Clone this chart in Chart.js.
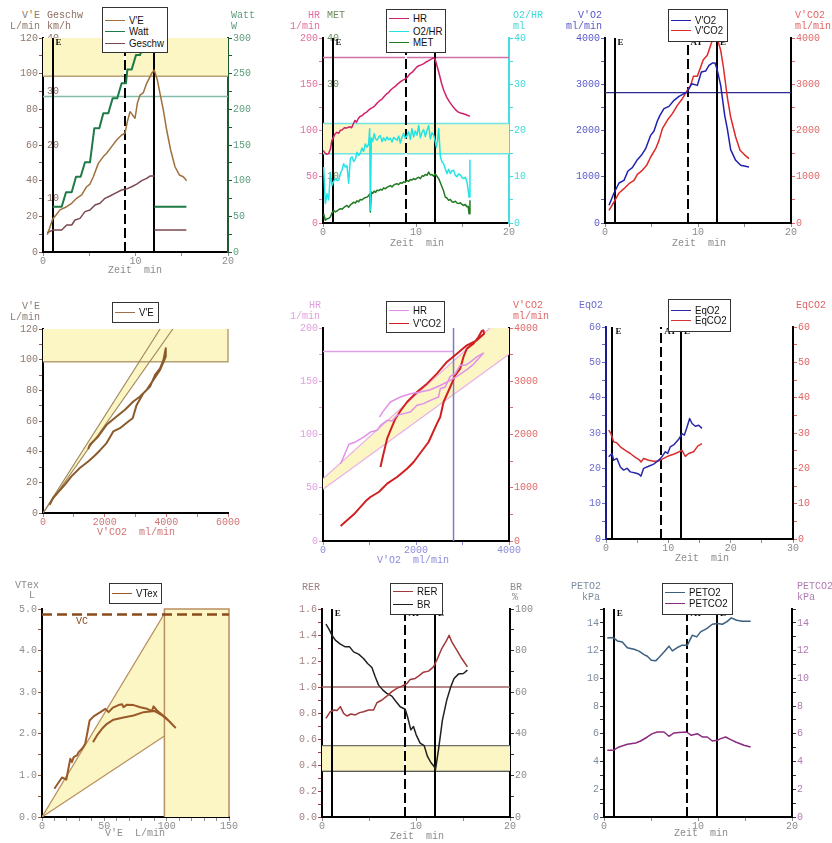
<!DOCTYPE html>
<html>
<head>
<meta charset="utf-8">
<script src="https://cdn.jsdelivr.net/npm/chart.js@4.4.1/dist/chart.umd.min.js"></script>
<style>
  html, body { margin: 0; padding: 0; background: #fff; }
  #page { position: relative; width: 832px; height: 843px; overflow: hidden; }
  .lbl { position: absolute; font: 10px "Liberation Mono", monospace; white-space: pre; line-height: 11px; z-index: 2; }
  .legend { position: absolute; background: #fff; border: 1.5px solid #333; box-sizing: border-box; z-index: 3;
            font: 11px "Liberation Sans", Arial, sans-serif; }
  .legend i { position: absolute; height: 0; border-top: 1.5px solid; }
  .legend span { position: absolute; line-height: 14px; white-space: nowrap; transform: scaleX(0.88); transform-origin: left center; color: #111; }
</style>
</head>
<body>
<div id="page"></div>
<script>
// ---- event markers (min): E = start of load, AT, end of load
const eventT = [1.03, 8.88, 12.03];

// ---- panel 1: V'E, Watt, Geschw over time (null = pen lifted at end of load)
const veT = [0.47,1.05,1.45,1.84,2.56,3.1,3.64,4.18,4.72,5.08,5.44,5.98,6.52,6.88,7.42,7.96,8.5,8.86,9.12,9.41,9.95,10.2,10.49,10.85,11.21,11.75,12.03,12.36,12.65,13.01,13.37,13.8,14.27,14.74,15.17,15.53];
const veV = [9.7,18.5,21.0,23.6,25.4,27.3,30.1,32,36.6,38.1,42.2,49.7,53.5,55.4,59.1,62.8,65.6,66.6,73.1,78.7,75,83.4,88,89.4,94.6,100.2,102,96.5,89,79.6,68.4,57.2,47.8,43.2,42.2,40];
const wattT = [1.05,2.02,2.49,3.10,3.57,4.07,4.54,5.08,5.55,6.09,6.52,7.06,7.53,8.03,8.50,8.97,9.12,9.59,10.05,10.49,10.92,11.4,12.03,12.03,12.03,15.5];
const wattV = [63.5,63.5,83.7,83.7,105.6,105.6,125.8,125.8,173.5,173.5,194.5,194.5,215.6,215.6,236.6,236.6,256,256,276,276,292,297,297,null,63.5,63.5];
const geT = [0.45,1.05,2.02,2.56,3.1,3.46,4.0,4.54,5.08,5.62,6.16,6.7,7.24,7.78,8.5,9.05,9.59,10.13,10.67,11.21,11.57,12.03,12.03,12.03,15.5];
const geV = [3.6,4.1,4.1,5.05,5.05,5.98,6.29,7.54,7.85,8.79,9.1,10.03,10.47,10.97,11.59,11.8,12.2,12.7,13.33,13.77,14.2,14.2,null,4.1,4.1];

// ---- panel 2: HR, O2/HR, MET over time
const hrT = [0.0,0.2,0.4,0.6,0.8,0.95,1.1,1.3,1.5,1.7,1.85,2.1,2.3,2.55,2.8,3.08,3.25,3.44,3.6,3.8,3.98,4.2,4.45,4.7,4.9,5.15,5.41,5.6,5.85,6.13,6.35,6.6,6.85,7.05,7.3,7.56,7.8,8.05,8.28,8.5,8.7,8.89,9.1,9.35,9.6,9.85,10.07,10.3,10.55,10.79,11.0,11.25,11.5,11.7,11.86,12.04,12.2,12.4,12.6,12.76,13.0,13.3,13.6,14.01,14.3,14.55,14.8,15.09,15.4,15.8];
const hrV = [78.5,76,74.2,75,80,89,92,96.5,98,97,100,101,103,102.6,104,103,107,110.9,109,113,115.2,116,118.5,119.9,122,124,125.3,127,130,132.5,134,137,139.7,141,144,146.2,148,150.5,152.3,154,155,155.9,158,161.3,163,166,168.5,170,171,172.1,173.5,175,176.4,177.5,178.6,177.5,172,164.9,157,150.5,143,136.1,131,125.3,122,119.9,119,118.1,117,115.2];
const breathT = [0.07,0.25,0.43,0.61,0.79,0.97,1.15,1.33,1.51,1.69,1.87,2.05,2.22,2.4,2.58,2.76,2.94,3.12,3.3,3.48,3.66,3.84,4.01,4.19,4.37,4.55,4.73,4.9,5.02,5.09,5.2,5.35,5.5,5.65,5.81,6.0,6.17,6.35,6.52,6.7,6.88,7.06,7.24,7.42,7.6,7.78,7.96,8.14,8.31,8.5,8.67,8.85,9.03,9.2,9.39,9.56,9.74,9.92,10.11,10.29,10.47,10.65,10.82,11.0,11.18,11.36,11.54,11.72,11.9,12.05,12.19,12.32,12.44,12.62,12.8,12.97,13.15,13.33,13.51,13.69,13.87,14.05,14.23,14.41,14.59,14.77,14.95,15.12,15.3,15.48,15.62,15.7,15.8];
const o2hrV = [12.1,4.2,6.3,5.0,10.7,8.1,9.0,9.6,9.2,9.3,10.7,11.5,12.8,12.1,12.4,8.6,13.9,14.3,13.3,13.8,15.3,14.6,15.1,16.2,15.5,17.1,16.4,17.0,20.4,2.7,18.4,17.6,19.3,18.2,17.9,18.6,18.9,17.6,18.4,17.8,18.6,18.0,18.3,17.5,18.5,18.2,17.9,18.8,17.3,18.6,19.4,18.3,18.9,19.7,18.1,20.4,18.6,19.9,19.0,21.1,18.4,19.6,20.2,18.7,20.0,21.1,18.2,19.5,19.0,17.8,16.4,18.0,20.4,14.3,13.2,12.8,11.7,10.7,11.6,10.7,11.3,11.4,10.3,10.0,10.6,10.4,9.8,9.6,9.9,8.9,7.0,5.6,13.7];
const metV = [2.0,0.6,0.9,1.0,1.3,2.2,2.7,2.4,2.6,2.9,3.1,3.0,3.3,3.6,3.8,3.4,3.9,4.2,4.5,4.3,4.8,4.6,5.1,5.0,5.3,5.5,5.6,5.9,6.3,2.4,6.7,6.4,6.9,6.6,7.1,7.0,7.3,7.1,7.6,7.4,7.7,7.9,8.1,7.8,8.2,8.4,8.5,8.3,8.7,8.6,8.9,8.8,9.2,9.0,9.4,9.3,9.6,9.4,9.7,9.9,9.6,10.2,10.1,10.5,10.3,11.0,10.4,10.5,10.1,10.6,10.3,9.9,9.6,8.7,7.8,6.9,5.6,5.4,4.9,5.1,4.6,4.5,4.7,4.3,4.2,4.4,4.0,3.8,4.0,3.5,3.6,2.0,4.9];

// ---- panel 3: V'O2, V'CO2 over time
const vo2T = [0.43,0.97,1.51,2.04,2.47,2.94,3.48,3.91,4.37,4.91,5.27,5.63,5.91,6.34,6.88,7.42,7.96,8.49,8.85,9.32,9.93,10.36,10.82,11.18,11.54,11.83,12.08,12.44,12.87,13.15,13.51,14.05,14.59,15.48];
const vo2V = [382,649,865,922,1124,1196,1369,1463,1607,1895,1989,2205,2328,2472,2522,2652,2739,2796,2832,3012,2976,3265,3286,3409,3459,3459,3301,2976,2328,2040,1585,1355,1247,1211];
const vco2T = [0.43,0.97,1.51,2.04,2.58,3.12,3.48,4.01,4.48,4.91,5.45,5.81,6.17,6.7,7.24,7.78,8.32,8.85,9.21,9.5,9.93,10.29,10.57,11.0,11.36,11.61,11.85,12.08,12.44,12.73,13.15,13.51,14.05,14.52,14.95,15.48];
const vco2V = [274,454,649,742,850,922,1052,1139,1247,1427,1607,1787,2040,2220,2364,2544,2688,2868,2976,3171,3171,3373,3531,3625,3841,3990,4080,3990,3733,3373,2724,2292,1859,1571,1485,1391];

// ---- panel 4: V'E against V'CO2 (load, then recovery)
const p4Vco2 = [217,325,705,922,1194,1465,1682,1845,2062,2279,2496,2767,2908,3038,3255,3472,3635,3797,3906,3982,3982,3797,3580,3364,3147,2930,2658,2387,2062,1790,1519,1465];
const p4Ve = [5.4,9.8,18.4,23.9,29.3,33.6,37.5,40.8,45.6,53.2,55.3,59.7,61.8,70.5,78.1,82.5,90.1,94.4,99.8,107.4,102,93.3,86.8,80.3,76,72.7,67.3,62.9,57.5,49.9,44.5,41.7];

// ---- panel 5: HR and V'CO2 against V'O2
const p5HrVo2 = [379,557,700,879,1021,1164,1236,1379,1486,1593,1736,1879,2021,2164,2307,2486,2521,2629,2736,2843,2950,3057,3164,3307,3450,3343,3236,3093,2914,2736,2521,2307,2093,1879,1664,1450,1280,1214];
const p5Hr = [72.6,90.8,93,97.7,102.3,103.9,108.6,113.3,112.7,118,119.6,121.1,127.4,129,132,135.2,143,144.6,154.6,157.1,165,165,168,172.8,176.5,171.2,165.9,160.9,155.6,150.9,146,142,139.9,138.3,135.2,130.5,121,116.4];
const p5Co2Vo2 = [379,664,914,1021,1200,1379,1593,1807,1950,2093,2271,2450,2521,2593,2736,2843,2950,3021,3093,3236,3343,3414,3450,3464,3307,3093,2879,2664,2450,2236,2021,1807,1664,1557,1450,1379,1293,1236];
const p5Co2 = [282,501,745,826,920,1077,1202,1358,1484,1653,1859,2204,2329,2610,2892,3111,3236,3456,3612,3706,3831,3944,3956,3894,3769,3675,3518,3362,3143,2955,2798,2610,2441,2297,2078,1922,1609,1390];

// ---- panel 6: EqO2, EqCO2 over time
const eqo2T = [0.43,0.96,1.23,1.76,2.3,2.83,3.37,3.9,4.71,5.24,5.61,6.04,6.84,7.65,8.45,8.98,9.52,9.89,10.32,10.96,11.66,12.19,12.57,13.0,13.42,13.8,14.33,14.87,15.4];
const eqo2V = [23.3,24.2,22.3,22.8,20.4,19.5,20,19,18.7,18.4,17.8,20,20.6,21.2,22.3,23.3,24.7,24.2,26.1,26.8,28.2,29.8,29.4,31.7,34.1,32.7,31.9,32.2,31.3];
const eqco2T = [0.43,0.8,1.23,1.76,2.3,3.1,3.9,4.71,5.4,5.61,6.04,6.84,7.65,8.45,9.25,9.79,10.32,10.86,11.39,12.19,12.73,13.26,14.06,14.71,15.4];
const eqco2V = [30.8,29.8,27.5,27.2,26.1,25.1,24.2,23.1,22.3,21.8,22.8,22.3,22,22.1,22.8,23.3,23.7,24,24.4,25.1,23.4,24.2,24.7,26.3,27];

// ---- panel 7: VTex against V'E
const vtVe = [9.9,16,19.5,22.7,24,25.4,28,29.4,32.1,34.7,38.2,41.4,46.8,50.8,53.4,56.9,61.4,64.2,65.4,68.2,73.5,78.8,84.2,88.2,89.5,92.2,98.9,102.9,106.9,102,96,90,81.5,73.5,65.4,57.4,52.1,48.1,44.1,40.9];
const vtV = [0.68,0.95,0.9,1.4,1.32,1.44,1.48,1.56,1.64,1.76,2.32,2.42,2.52,2.6,2.52,2.63,2.69,2.71,2.64,2.7,2.69,2.64,2.6,2.55,2.66,2.56,2.4,2.28,2.15,2.3,2.45,2.55,2.52,2.44,2.39,2.34,2.24,2.12,1.96,1.8];

// ---- panel 8: RER, BR over time
const rerT = [0.42,0.88,1.31,1.6,1.95,2.3,2.65,3.08,3.54,4.0,4.42,4.96,5.49,5.84,6.37,6.9,7.43,7.96,8.5,9.03,9.38,9.91,10.27,10.8,11.33,11.86,12.21,12.74,13.27,13.52,13.81,14.34,14.87,15.47];
const rerV = [0.759,0.81,0.823,0.82,0.849,0.797,0.777,0.792,0.785,0.803,0.81,0.823,0.823,0.879,0.9,0.93,0.964,0.989,1.007,1.027,1.058,1.066,1.084,1.114,1.122,1.155,1.206,1.296,1.36,1.398,1.347,1.283,1.219,1.155];
const brT = [0.42,0.71,1.06,1.42,1.95,2.48,2.94,3.36,3.89,4.42,4.85,5.31,5.66,6.02,6.48,6.9,7.43,7.89,8.32,8.85,9.1,9.45,9.73,10.02,10.44,10.87,11.22,11.58,11.93,12.07,12.39,12.81,13.27,13.7,14.05,14.51,15.04,15.47];
const brV = [92.7,90.6,87.4,85,83.1,81.8,81.8,79.4,78.3,76.2,73.8,71.9,67.4,63.4,61,59.4,58.1,55.4,53,51.8,48.2,41.9,43.5,39.5,35.5,34.3,29.1,26.2,24.3,22.7,32.3,46.6,56.2,62.6,66.6,68.7,69,70.6];

// ---- panel 9: PETO2, PETCO2 over time
const peto2T = [0.35,0.99,1.42,1.95,2.48,3.19,3.72,4.26,4.61,5.04,5.5,5.85,6.38,6.91,7.27,7.8,8.33,8.87,9.4,9.86,10.28,10.92,11.52,12.06,12.59,13.05,13.55,14.11,14.72,15.6];
const peto2V = [12.9,12.94,12.7,12.62,12.21,12.1,11.96,11.71,11.59,11.3,11.26,11.5,11.9,12.32,11.98,12.22,12.39,12.39,13.11,12.99,13.35,13.59,13.9,13.95,13.9,14.07,14.36,14.19,14.12,14.12];
const petco2T = [0.35,0.99,1.6,2.48,3.37,3.9,4.61,5.14,5.67,6.38,6.91,7.45,7.98,8.79,9.29,9.93,10.46,10.99,11.52,12.06,12.41,12.94,13.48,14.01,14.89,15.6];
const petco2V = [4.81,4.81,5.05,5.24,5.34,5.48,5.77,6.01,6.13,6.13,5.82,6.06,6.09,6.13,5.89,6.01,5.77,5.77,5.48,5.53,5.65,5.77,5.58,5.41,5.17,5.05];

const MONO = '"Liberation Mono", "DejaVu Sans Mono", monospace';
const YEL = '#fcf6c4';
const GREY = '#8c8c8c';
const page = document.getElementById('page');

const zip = (xs, ys) => xs.map((x, i) => ({ x, y: ys[i] }));

function tickList(min, max, step) {
  const out = [];
  for (let i = 0; min + i * step <= max + 1e-9; i++) out.push({ value: +(min + i * step).toFixed(4) });
  return out;
}

function axis(o) {
  const isX = o.pos === 'bottom';
  const major = v => Math.abs(v / o.major - Math.round(v / o.major)) < 1e-6;
  return {
    type: 'linear', position: o.pos, min: o.min, max: o.max, weight: o.weight || 0, z: 1,
    afterFit: s => { if (isX) s.height = 30; else s.width = o.inner ? 0 : 50; },
    afterBuildTicks: s => { s.ticks = tickList(o.min, o.max, o.minor); },
    border: { display: !o.inner, color: o.line || '#000', width: 2 },
    grid: { display: !o.inner, drawOnChartArea: false, drawTicks: true, tickLength: 4, color: o.mark || o.color, lineWidth: 1 },
    ticks: {
      autoSkip: false, maxRotation: 0, mirror: !!o.inner, padding: o.inner ? 4 : (isX ? -1 : 1),
      color: o.color, font: { family: MONO, size: 10 },
      callback: v => (major(v) && !(o.noZero && v === 0)) ? (o.dec ? v.toFixed(o.dec) : String(Math.round(v))) : ''
    }
  };
}

// yellow areas, reference lines and the E / AT / E markers, drawn from scale values
function refLayer(spec) {
  return {
    id: 'refs',
    beforeDatasetsDraw(chart) {
      const { ctx, chartArea: a, scales } = chart;
      const pt = (id, x, y) => [scales.x.getPixelForValue(x), scales[id].getPixelForValue(y)];
      ctx.save();
      ctx.beginPath();
      ctx.rect(a.left, a.top - 1, a.right - a.left + 1, a.bottom - a.top + 1);
      ctx.clip();
      (spec.polys || []).forEach(p => {
        ctx.beginPath();
        p.pts.forEach(([x, y], i) => { const [X, Y] = pt(p.y || 'y', x, y); i ? ctx.lineTo(X, Y) : ctx.moveTo(X, Y); });
        ctx.closePath();
        ctx.fillStyle = p.fill || YEL;
        ctx.fill();
      });
      (spec.lines || []).forEach(l => {
        ctx.beginPath();
        l.pts.forEach(([x, y], i) => { const [X, Y] = pt(l.y || 'y', x, y); i ? ctx.lineTo(X, Y) : ctx.moveTo(X, Y); });
        ctx.strokeStyle = l.color; ctx.lineWidth = l.w || 1.2; ctx.setLineDash(l.dash || []);
        ctx.stroke();
      });
      ctx.setLineDash([]);
      if (spec.events) {
        eventT.forEach((t, i) => {
          const X = Math.round(scales.x.getPixelForValue(t));
          ctx.lineWidth = 2;
          ctx.beginPath(); ctx.moveTo(X, a.bottom); ctx.lineTo(X, a.top);
          if (i === 1) { ctx.strokeStyle = '#fff'; ctx.stroke(); ctx.setLineDash([10, 4]); }
          ctx.strokeStyle = '#000'; ctx.stroke(); ctx.setLineDash([]);
        });
        ctx.fillStyle = '#111';
        ctx.font = 'bold 9px "Liberation Serif", serif';
        ctx.textBaseline = 'middle';
        ['E', 'AT', 'E'].forEach((s, i) => ctx.fillText(s, scales.x.getPixelForValue(eventT[i]) + 3, a.top + 5));
      }
      ctx.restore();
    }
  };
}

function makeChart(p) {
  const W = p.R - p.L + 100, H = p.B - p.T + 40;
  const cv = document.createElement('canvas');
  cv.width = W; cv.height = H;
  cv.style.cssText = `position:absolute;left:${p.L - 50}px;top:${p.T - 10}px;width:${W}px;height:${H}px;z-index:1`;
  page.appendChild(cv);
  const scales = { x: axis({ ...p.x, pos: 'bottom' }), y: axis({ ...p.y, pos: 'left', weight: 1 }) };
  if (p.y2) scales.y2 = axis({ ...p.y2, pos: 'right' });
  if (p.y3) scales.y3 = axis({ ...p.y3, pos: 'left', inner: true, weight: 0 });
  new Chart(cv, {
    type: 'scatter',
    data: {
      datasets: p.sets.map(s => ({
        data: s.data, yAxisID: s.axis || 'y', borderColor: s.color, borderWidth: s.w || 1.5,
        showLine: true, pointRadius: 0, fill: false, tension: 0, borderJoinStyle: 'round', spanGaps: false
      }))
    },
    options: {
      responsive: false, animation: false, events: [],
      layout: { padding: { top: 10, right: p.y2 ? 0 : 50, left: 0, bottom: 0 } },
      plugins: { legend: { display: false }, tooltip: { enabled: false } },
      scales
    },
    plugins: [refLayer(p.refs || {})]
  });
}

const C = {
  ve: '#8c7a6e', geschw: '#8c6e64', watt: '#5c9c7c',
  hr: '#e070a0', met: '#6c8c5c', o2hr: '#40d8d8',
  vo2: '#5a5ac8', vco2: '#e06868', hr5: '#e0a0e0', vo2x: '#8c8cdc',
  eqo2: '#6a6ad0', eqco2: '#e06464', rer: '#a08080', br: GREY,
  peto2: '#7c8ca0', petco2: '#b07cb0', tan: '#b8a074'
};
const timeX = { min: 0, max: 20, minor: 5, major: 10, color: GREY };

makeChart({ L: 43, R: 228, T: 38, B: 252, x: timeX,
  y: { min: 0, max: 120, minor: 10, major: 20, color: C.ve, mark: '#8c5a40' },
  y2: { min: 0, max: 300, minor: 25, major: 50, color: C.watt, line: '#1e5a32', mark: '#1e5a32' },
  y3: { min: 0, max: 40, minor: 10, major: 10, noZero: true, color: C.geschw },
  refs: { events: true,
    polys: [{ pts: [[0, 98.5], [20, 98.5], [20, 120], [0, 120]] }],
    lines: [{ pts: [[0, 98.5], [20, 98.5]], color: C.tan, w: 1.5 }, { y: 'y2', pts: [[0, 218], [20, 218]], color: '#84bcaa', w: 1.5 }] },
  sets: [
    { data: zip(veT, veV), color: '#a0703c' },
    { data: zip(wattT, wattV), axis: 'y2', color: '#1e7a46', w: 2 },
    { data: zip(geT, geV), axis: 'y3', color: '#7a4a50' }
  ] });

makeChart({ L: 323, R: 509, T: 38, B: 223, x: timeX,
  y: { min: 0, max: 200, minor: 25, major: 50, color: C.hr },
  y2: { min: 0, max: 40, minor: 5, major: 10, color: C.o2hr, line: '#40e0e0' },
  y3: { min: 0, max: 40, minor: 10, major: 10, noZero: true, color: C.met },
  refs: { events: true,
    polys: [{ y: 'y2', pts: [[0, 15], [20, 15], [20, 21.5], [0, 21.5]] }],
    lines: [{ y: 'y2', pts: [[0, 15], [20, 15]], color: '#70e4e4', w: 1.5 }, { y: 'y2', pts: [[0, 21.5], [20, 21.5]], color: '#70e4e4', w: 1.5 },
            { pts: [[0, 179], [20, 179]], color: '#d070a8', w: 1.5 }] },
  sets: [
    { data: zip(hrT, hrV), color: '#d0206a' },
    { data: zip(breathT, o2hrV), axis: 'y2', color: '#22e4e4' },
    { data: zip(breathT, metV), axis: 'y3', color: '#207a20' }
  ] });

makeChart({ L: 605, R: 791, T: 38, B: 223, x: timeX,
  y: { min: 0, max: 4000, minor: 500, major: 1000, color: C.vo2 },
  y2: { min: 0, max: 4000, minor: 500, major: 1000, color: C.vco2 },
  refs: { events: true, lines: [{ pts: [[0, 2818], [20, 2818]], color: '#2a2a90', w: 1.2 }] },
  sets: [
    { data: zip(vo2T, vo2V), color: '#2020b0' },
    { data: zip(vco2T, vco2V), axis: 'y2', color: '#e02828' }
  ] });

makeChart({ L: 43, R: 228, T: 329, B: 513,
  x: { min: 0, max: 6000, minor: 1000, major: 2000, color: '#d07474' },
  y: { min: 0, max: 120, minor: 10, major: 20, color: C.ve, mark: '#8c5a40' },
  refs: {
    polys: [{ pts: [[0, 98.7], [6000, 98.7], [6000, 120], [0, 120]] }, { pts: [[0, 0], [3797, 120], [4210, 120]] }],
    lines: [{ pts: [[0, 98.7], [6000, 98.7], [6000, 120]], color: C.tan, w: 1.5 },
            { pts: [[0, 0], [3797, 120]], color: '#a08860' }, { pts: [[0, 0], [4210, 120]], color: '#a08860' }] },
  sets: [{ data: zip(p4Vco2, p4Ve), color: '#8b5a2b', w: 2 }] });

makeChart({ L: 323, R: 509, T: 328, B: 541,
  x: { min: 0, max: 4000, minor: 1000, major: 2000, color: C.vo2x },
  y: { min: 0, max: 200, minor: 25, major: 50, color: C.hr5 },
  y2: { min: 0, max: 4000, minor: 500, major: 1000, color: C.vco2 },
  refs: {
    polys: [{ pts: [[0, 58.5], [3593, 200], [4000, 200], [4000, 175.3], [0, 48.5]] }],
    lines: [{ pts: [[0, 58.5], [3593, 200]], color: '#e8b0e8' }, { pts: [[0, 48.5], [4000, 175.3]], color: '#e8b0e8' },
            { pts: [[0, 178], [2807, 178]], color: '#e0a0e8', w: 1.5 }, { pts: [[2807, 0], [2807, 200]], color: '#7a7ac8', w: 1.5 }] },
  sets: [
    { data: zip(p5HrVo2, p5Hr), color: '#e090e8' },
    { data: zip(p5Co2Vo2, p5Co2), axis: 'y2', color: '#d02020', w: 2 }
  ] });

makeChart({ L: 606, R: 793, T: 327, B: 539,
  x: { min: 0, max: 30, minor: 5, major: 10, color: GREY },
  y: { min: 0, max: 60, minor: 5, major: 10, color: C.eqo2, line: '#1c1c8c' },
  y2: { min: 0, max: 60, minor: 5, major: 10, color: C.eqco2 },
  refs: { events: true },
  sets: [
    { data: zip(eqo2T, eqo2V), color: '#2828a8' },
    { data: zip(eqco2T, eqco2V), axis: 'y2', color: '#d83030' }
  ] });

makeChart({ L: 42, R: 229, T: 609, B: 817,
  x: { min: 0, max: 150, minor: 10, major: 50, color: GREY },
  y: { min: 0, max: 5, minor: 0.5, major: 1, dec: 1, color: GREY, mark: '#8c5a40' },
  refs: {
    polys: [{ pts: [[0, 0], [98.2, 4.89], [98.2, 1.95]] }, { pts: [[98.2, 0], [150, 0], [150, 5], [98.2, 5]] }],
    lines: [{ pts: [[0, 0], [98.2, 4.89]], color: '#b89060' }, { pts: [[0, 0], [98.2, 1.95]], color: '#b89060' },
            { pts: [[98.2, 0], [98.2, 5], [150, 5], [150, 0]], color: '#b89060', w: 1.5 },
            { pts: [[0, 4.87], [150, 4.87]], color: '#8b4a1c', w: 2.5, dash: [10, 5] }] },
  sets: [{ data: zip(vtVe, vtV), color: '#9a5a28', w: 2 }] });

makeChart({ L: 322, R: 510, T: 609, B: 817, x: timeX,
  y: { min: 0, max: 1.6, minor: 0.1, major: 0.2, dec: 1, color: C.rer, mark: '#a04040' },
  y2: { min: 0, max: 100, minor: 10, major: 20, color: C.br, mark: '#333' },
  refs: { events: true,
    polys: [{ y: 'y2', pts: [[0, 22], [20, 22], [20, 34.3], [0, 34.3]] }],
    lines: [{ y: 'y2', pts: [[0, 34.3], [20, 34.3]], color: '#707070' }, { y: 'y2', pts: [[0, 22], [20, 22]], color: '#202020' },
            { pts: [[0, 1.0], [20, 1.0]], color: '#a06060', w: 1.5 }] },
  sets: [
    { data: zip(rerT, rerV), color: '#a03838' },
    { data: zip(brT, brV), axis: 'y2', color: '#202020' }
  ] });

makeChart({ L: 604, R: 792, T: 609, B: 817, x: timeX,
  y: { min: 0, max: 15, minor: 1, major: 2, color: C.peto2, mark: '#333' },
  y2: { min: 0, max: 15, minor: 1, major: 2, color: C.petco2, mark: '#333' },
  refs: { events: true },
  sets: [
    { data: zip(peto2T, peto2V), color: '#3a5f80' },
    { data: zip(petco2T, petco2V), axis: 'y2', color: '#8a2a80' }
  ] });

// axis captions (x, top, text, colour)
const captions = [
  [22, 10, "V'E", C.ve], [47, 10, 'Geschw', C.geschw], [10, 21, 'L/min', C.ve], [47, 21, 'km/h', C.geschw],
  [231, 10, 'Watt', C.watt], [231, 21, 'W', C.watt], [108, 265, 'Zeit  min', GREY],
  [308, 10, 'HR', C.hr], [327, 10, 'MET', C.met], [290, 21, '1/min', C.hr],
  [513, 10, 'O2/HR', C.o2hr], [513, 21, 'ml', C.o2hr], [390, 238, 'Zeit  min', GREY],
  [578, 10, "V'O2", C.vo2], [566, 21, 'ml/min', C.vo2], [795, 10, "V'CO2", C.vco2], [795, 21, 'ml/min', C.vco2],
  [672, 238, 'Zeit  min', GREY],
  [22, 301, "V'E", C.ve], [10, 312, 'L/min', C.ve], [97, 527, "V'CO2  ml/min", '#d07474'],
  [309, 300, 'HR', C.hr5], [290, 311, '1/min', C.hr5], [513, 300, "V'CO2", C.vco2], [513, 311, 'ml/min', C.vco2],
  [377, 555, "V'O2  ml/min", C.vo2x],
  [579, 300, 'EqO2', C.eqo2], [796, 300, 'EqCO2', C.eqco2], [675, 553, 'Zeit  min', GREY],
  [15, 580, 'VTex', GREY], [29, 590, 'L', GREY], [105, 828, "V'E  L/min", GREY], [76, 616, 'VC', '#8b4a1c'],
  [302, 582, 'RER', C.rer], [510, 582, 'BR', C.br], [512, 592, '%', C.br], [390, 831, 'Zeit  min', GREY],
  [571, 581, 'PETO2', C.peto2], [582, 592, 'kPa', C.peto2], [797, 581, 'PETCO2', C.petco2], [797, 592, 'kPa', C.petco2],
  [674, 828, 'Zeit  min', GREY]
];
captions.forEach(([x, y, s, c]) => {
  const d = document.createElement('div');
  d.className = 'lbl';
  d.style.cssText = `left:${x}px;top:${y}px;color:${c}`;
  d.textContent = s;
  page.appendChild(d);
});

// legend boxes
const legends = [
  { x: 102, y: 7, w: 66, h: 46, rows: [13, 24.7, 36], items: [["V'E", '#a0703c'], ['Watt', '#1e7a46'], ['Geschw', '#7a4a50']] },
  { x: 386, y: 9, w: 60, h: 44, rows: [9.7, 22.3, 33.7], items: [['HR', '#d0206a'], ['O2/HR', '#22e4e4'], ['MET', '#207a20']] },
  { x: 668, y: 9, w: 60, h: 33, rows: [11, 21.7], items: [["V'O2", '#2020b0'], ["V'CO2", '#e02828']] },
  { x: 112, y: 302, w: 47, h: 21, rows: [10.5], items: [["V'E", '#a0704a']] },
  { x: 386, y: 301, w: 59, h: 32, rows: [9.7, 22.3], items: [['HR', '#e090e8'], ["V'CO2", '#d02020']] },
  { x: 668, y: 299, w: 63, h: 33, rows: [11, 21.7], items: [['EqO2', '#2828a8'], ['EqCO2', '#d83030']] },
  { x: 109, y: 583, w: 53, h: 21, rows: [10.5], items: [['VTex', '#9a5a28']] },
  { x: 390, y: 583, w: 53, h: 32, rows: [8.7, 21], items: [['RER', '#a03838'], ['BR', '#202020']] },
  { x: 662, y: 583, w: 71, h: 32, rows: [9.7, 20.3], items: [['PETO2', '#3a5f80'], ['PETCO2', '#8a2a80']] }
];
legends.forEach(L => {
  const box = document.createElement('div');
  box.className = 'legend';
  box.style.cssText = `left:${L.x}px;top:${L.y}px;width:${L.w}px;height:${L.h}px`;
  L.items.forEach(([name, col], i) => {
    const cy = L.rows[i] - 1.5;
    const ln = document.createElement('i');
    ln.style.cssText = `left:2px;top:${cy}px;width:20px;border-color:${col}`;
    const tx = document.createElement('span');
    tx.style.cssText = `left:26px;top:${cy - 7}px`;
    tx.textContent = name;
    box.appendChild(ln); box.appendChild(tx);
  });
  page.appendChild(box);
});
</script>
</body>
</html>
